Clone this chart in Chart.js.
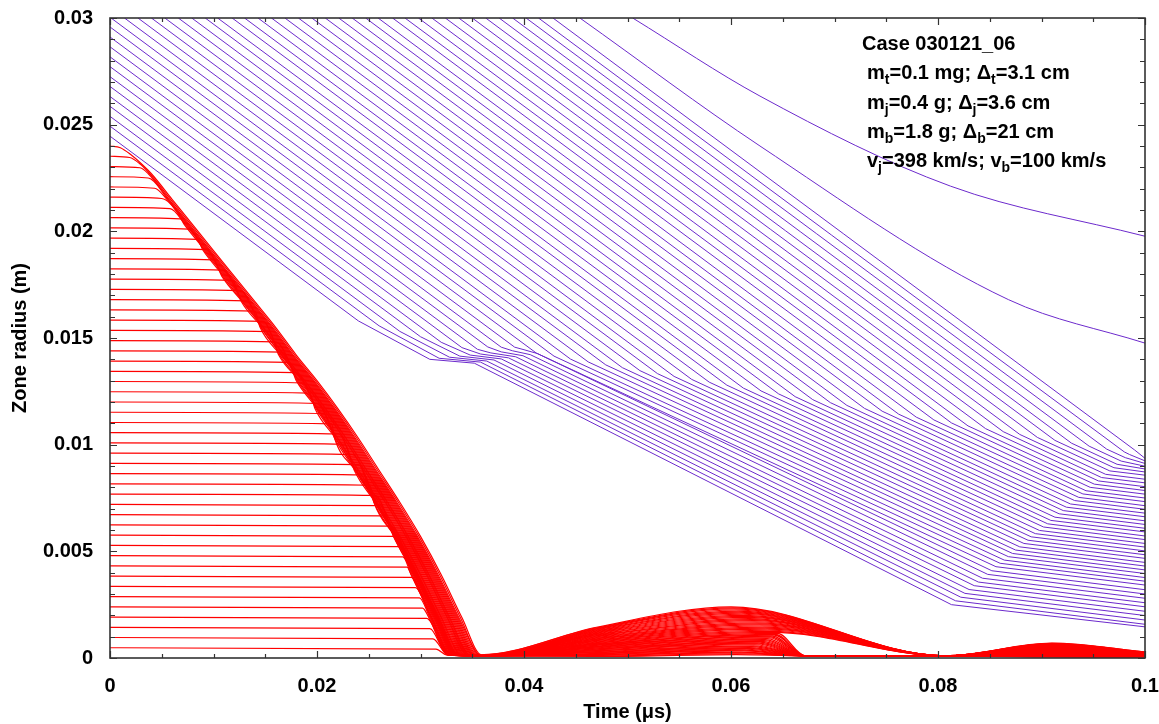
<!DOCTYPE html>
<html>
<head>
<meta charset="utf-8">
<script src="https://cdn.jsdelivr.net/npm/chart.js@4.4.1/dist/chart.umd.min.js"></script>
<style>
  html, body { margin: 0; padding: 0; background: #fff; }
</style>
</head>
<body>
<canvas id="zoneChart" width="1159" height="724"></canvas>
<script>
// tick labels
const xMajor = [0, 0.02, 0.04, 0.06, 0.08, 0.1];
const yMajor = [0, 0.005, 0.01, 0.015, 0.02, 0.025, 0.03];

// target zones (red): initial radius, time the flat line bends, lag behind outermost zone
const redStart = [0.024, 0.02352, 0.02304, 0.02256, 0.02208, 0.0216, 0.02112, 0.02064, 0.02016, 0.01968,
  0.0192, 0.01872, 0.01824, 0.01776, 0.01728, 0.0168, 0.01632, 0.01584, 0.01536, 0.01488,
  0.0144, 0.01392, 0.01344, 0.01296, 0.01248, 0.012, 0.01152, 0.01104, 0.01056, 0.01008,
  0.0096, 0.00912, 0.00864, 0.00816, 0.00768, 0.0072, 0.00672, 0.00624, 0.00576, 0.00528,
  0.0048, 0.00432, 0.00384, 0.00336, 0.00288, 0.0024, 0.00192, 0.00144, 0.00096, 0.00048];
const redBend = [0, 0.0019, 0.0029, 0.0037, 0.0043, 0.0050, 0.0058, 0.0068, 0.0076, 0.0084,
  0.0093, 0.0100, 0.0109, 0.0118, 0.0126, 0.0132, 0.0140, 0.0148, 0.0154, 0.0160,
  0.0166, 0.0172, 0.0179, 0.0186, 0.0193, 0.0200, 0.0207, 0.0214, 0.0221, 0.0227,
  0.0234, 0.0240, 0.0246, 0.0251, 0.0256, 0.0261, 0.0266, 0.0271, 0.0275, 0.0279,
  0.0283, 0.0287, 0.0291, 0.0295, 0.0299, 0.0302, 0.0306, 0.0309, 0.0312, 0.0315];
const redLag = [0, 0.00015, 0.0003, 0.0004, 0.0005, 0.0006, 0.0007, 0.0008, 0.0009, 0.0010,
  0.0011, 0.0012, 0.0012, 0.0013, 0.0014, 0.0014, 0.0015, 0.0016, 0.0017, 0.0018,
  0.0019, 0.0020, 0.0020, 0.0021, 0.0022, 0.0022, 0.0023, 0.0023, 0.0023, 0.0024,
  0.0024, 0.0024, 0.0025, 0.0025, 0.0025, 0.0026, 0.0026, 0.0027, 0.0027, 0.0028,
  0.0029, 0.0029, 0.0030, 0.0030, 0.0031, 0.0032, 0.0032, 0.0033, 0.0033, 0.0034];
// outermost target zone trajectory
const outerT = [0, 0.001, 0.002, 0.003, 0.004, 0.006, 0.008, 0.010, 0.012, 0.014, 0.016, 0.018,
  0.020, 0.022, 0.024, 0.026, 0.028, 0.030, 0.032, 0.034, 0.0359];
const outerR = [0.0240, 0.02392, 0.0236, 0.02318, 0.0227, 0.0215, 0.0203, 0.0191, 0.0179, 0.0167, 0.0155, 0.0142,
  0.0130, 0.0117, 0.0103, 0.0088, 0.0073, 0.0057, 0.0039, 0.0019, 0.00015];
// bounces after reaching the axis
const redRise = [0.00144, 0.00141, 0.00138, 0.00135, 0.00132, 0.00129, 0.00126, 0.00123, 0.00120, 0.00117,
  0.00114, 0.00111, 0.00108, 0.00105, 0.00102, 0.00099, 0.00096, 0.00093, 0.00090, 0.00087,
  0.00084, 0.00081, 0.00078, 0.00075, 0.00072, 0.00069, 0.00066, 0.00064, 0.00061, 0.00059,
  0.00056, 0.00053, 0.00051, 0.00048, 0.00046, 0.00043, 0.00041, 0.00038, 0.00035, 0.00033,
  0.00030, 0.00028, 0.00025, 0.00022, 0.00020, 0.00017, 0.00015, 0.00012, 0.00010, 0.00007];
const redPeak1 = [0.00240, 0.00235, 0.00230, 0.00225, 0.00220, 0.00215, 0.00210, 0.00205, 0.00200, 0.00195,
  0.00190, 0.00185, 0.00180, 0.00175, 0.00170, 0.00165, 0.00160, 0.00155, 0.00150, 0.00145,
  0.00140, 0.00135, 0.00130, 0.00125, 0.00120, 0.00115, 0.00111, 0.00107, 0.00103, 0.00099,
  0.00095, 0.00091, 0.00086, 0.00082, 0.00078, 0.00074, 0.00070, 0.00066, 0.00062, 0.00057,
  0.00053, 0.00049, 0.00045, 0.00041, 0.00037, 0.00033, 0.00028, 0.00024, 0.00020, 0.00016];
const redPeak1T = [0.0600, 0.0602, 0.0603, 0.0605, 0.0607, 0.0608, 0.0610, 0.0612, 0.0613, 0.0615,
  0.0617, 0.0618, 0.0620, 0.0622, 0.0623, 0.0625, 0.0627, 0.0628, 0.0630, 0.0632,
  0.0633, 0.0635, 0.0637, 0.0638, 0.0640, 0.0645, 0.0643, 0.0642, 0.0640, 0.0638,
  0.0637, 0.0635, 0.0633, 0.0632, 0.0630, 0.0628, 0.0627, 0.0625, 0.0623, 0.0622,
  0.0620, 0.0618, 0.0617, 0.0615, 0.0613, 0.0612, 0.0610, 0.0608, 0.0607, 0.0605];
const redEnd1 = [0.0807, 0.0807, 0.0807, 0.0807, 0.0807, 0.0807, 0.0807, 0.0807, 0.0807, 0.0807,
  0.0807, 0.0807, 0.0807, 0.0807, 0.0807, 0.0807, 0.0807, 0.0807, 0.0807, 0.0807,
  0.0807, 0.0807, 0.0807, 0.0807, 0.0807, 0.0672, 0.0672, 0.0672, 0.0672, 0.0672,
  0.0672, 0.0672, 0.0672, 0.0672, 0.0672, 0.0672, 0.0672, 0.0672, 0.0672, 0.0672,
  0.0672, 0.0672, 0.0672, 0.0672, 0.0672, 0.0672, 0.0672, 0.0672, 0.0672, 0.0672];
const redPeak2 = [0.00070, 0.00069, 0.00067, 0.00066, 0.00065, 0.00063, 0.00062, 0.00061, 0.00059, 0.00058,
  0.00057, 0.00055, 0.00054, 0.00052, 0.00051, 0.00050, 0.00048, 0.00047, 0.00046, 0.00044,
  0.00043, 0.00042, 0.00040, 0.00039, 0.00038, 0.00036, 0.00035, 0.00034, 0.00032, 0.00031,
  0.00030, 0.00028, 0.00027, 0.00026, 0.00024, 0.00023, 0.00022, 0.00020, 0.00019, 0.00018,
  0.00016, 0.00015, 0.00014, 0.00012, 0.00011, 0.00010, 0.00008, 0.00007, 0.00006, 0.00004];
const redTail = [0.00028, 0.00028, 0.00027, 0.00026, 0.00026, 0.00025, 0.00025, 0.00024, 0.00024, 0.00023,
  0.00023, 0.00022, 0.00022, 0.00021, 0.00020, 0.00020, 0.00019, 0.00019, 0.00018, 0.00018,
  0.00017, 0.00017, 0.00016, 0.00016, 0.00015, 0.00014, 0.00014, 0.00014, 0.00013, 0.00012,
  0.00012, 0.00011, 0.00011, 0.00010, 0.00010, 0.00009, 0.00009, 0.00008, 0.00008, 0.00007,
  0.00006, 0.00006, 0.00006, 0.00005, 0.00004, 0.00004, 0.00003, 0.00003, 0.00002, 0.00002];
const bendSag = 0.00006;
const apex1T = 0.0359, riseT = 0.047, apex2T = 0.0807, peak2T = 0.0910, floorR = 0.0001;

// jet zones (purple): start, bend into slowed layer, stagnation knee, radius at 0.1
const purpleStartT = [0, 0, 0, 0, 0, 0, 0, 0, 0, 0, 0, 0,
  0.0001, 0.0014, 0.0027, 0.0040, 0.0053, 0.0066, 0.0079, 0.0092, 0.0104, 0.0118, 0.0130, 0.0143,
  0.0156, 0.0169, 0.0182, 0.0195, 0.0208, 0.0221, 0.0234, 0.0247, 0.0259, 0.0273, 0.0285, 0.0298,
  0.0311, 0.0324, 0.0337, 0.0350, 0.0363, 0.0376, 0.0389, 0.0402, 0.0414, 0.0428, 0.0454, 0.0505];
const purpleStartR = [0.02446, 0.02493, 0.02539, 0.02586, 0.02632, 0.02679, 0.02725, 0.02772, 0.02818, 0.02865, 0.02911, 0.02958,
  0.03, 0.03, 0.03, 0.03, 0.03, 0.03, 0.03, 0.03, 0.03, 0.03, 0.03, 0.03,
  0.03, 0.03, 0.03, 0.03, 0.03, 0.03, 0.03, 0.03, 0.03, 0.03, 0.03, 0.03,
  0.03, 0.03, 0.03, 0.03, 0.03, 0.03, 0.03, 0.03, 0.03, 0.03, 0.03, 0.03];
const purpleInT = [0.0240, 0.0260, 0.0280, 0.0300, 0.0320, 0.0340, 0.0355, 0.0365, 0.0378, 0.0391,
  0.0412, 0.0429, 0.0445, 0.0462, 0.0479, 0.0495, 0.0512, 0.0529, 0.0545, 0.0562,
  0.0579, 0.0596, 0.0612, 0.0629, 0.0646, 0.0662, 0.0679, 0.0696, 0.0712, 0.0729,
  0.0746, 0.0762, 0.0779, 0.0796, 0.0813, 0.0829, 0.0846, 0.0863, 0.0879, 0.0896,
  0.0913, 0.0929, 0.0946, 0.0963, 0.0980, null, 0.0628, 0.0628];
const purpleInR = [0.0158, 0.01557, 0.01531, 0.01506, 0.01480, 0.01455, 0.01447, 0.01458, 0.01457, 0.01457,
  0.01429, 0.01415, 0.01401, 0.01388, 0.01374, 0.01361, 0.01347, 0.01333, 0.01320, 0.01306,
  0.01293, 0.01279, 0.01265, 0.01252, 0.01238, 0.01225, 0.01211, 0.01197, 0.01184, 0.01170,
  0.01157, 0.01143, 0.01129, 0.01116, 0.01102, 0.01088, 0.01075, 0.01061, 0.01048, 0.01034,
  0.01020, 0.01007, 0.00993, 0.00979, 0.00966, null, 0.0240, 0.02634];
// innermost jet zones pile up near r = 0.014 (pinch), then leave it
const purpleFlatT = [0.0309, 0.0318, 0.0328, 0.0338, 0.0348, 0.0358, 0.0368, 0.0378, 0.0389, 0.0400];
const purpleFlatR = [0.0140, 0.01405, 0.01410, 0.01415, 0.01420, 0.01425, 0.01430, 0.01435, 0.0144, 0.01445];
const purpleOutT = [0.0352, 0.0358, 0.0364, 0.0371, 0.0378, 0.0385, 0.0392, 0.0399, 0.0406, 0.0413];
const purpleOutR = [0.01382, 0.01387, 0.01392, 0.01397, 0.01402, 0.01407, 0.01412, 0.01417, 0.01422, 0.01427];
const purpleKneeT = [0.0813, 0.0817, 0.0822, 0.0826, 0.0830, 0.0835, 0.0839, 0.0843, 0.0848, 0.0852,
  0.0856, 0.0860, 0.0864, 0.0868, 0.0872, 0.0875, 0.0879, 0.0883, 0.0887, 0.0890,
  0.0894, 0.0898, 0.0902, 0.0906, 0.0909, 0.0913, 0.0917, 0.0921, 0.0924, 0.0928,
  0.0932, 0.0936, 0.0940, 0.0943, 0.0947, 0.0951, 0.0955, 0.0958, 0.0962, 0.0966,
  0.0970, 0.0973, 0.0977, 0.0981, 0.0985, 0.0990, 0.0868, 0.0812];
const purpleKneeR = [0.0025, 0.00268, 0.00285, 0.00303, 0.00321, 0.00339, 0.00356, 0.00374, 0.00392, 0.00409,
  0.00428, 0.00444, 0.00459, 0.00475, 0.00490, 0.00506, 0.00521, 0.00537, 0.00552, 0.00568,
  0.00583, 0.00598, 0.00614, 0.00629, 0.00645, 0.00660, 0.00676, 0.00691, 0.00707, 0.00722,
  0.00738, 0.00753, 0.00769, 0.00784, 0.00800, 0.00815, 0.00830, 0.00846, 0.00861, 0.00877,
  0.00892, 0.00908, 0.00923, 0.00939, 0.00954, 0.00975, 0.0168, 0.02212];
const purpleEndR = [0.00146, 0.00158, 0.00178, 0.00199, 0.00219, 0.00240, 0.00259, 0.00280, 0.00300, 0.00320,
  0.00342, 0.00360, 0.00377, 0.00396, 0.00413, 0.00431, 0.00448, 0.00467, 0.00484, 0.00502,
  0.00520, 0.00537, 0.00555, 0.00572, 0.00591, 0.00608, 0.00626, 0.00643, 0.00662, 0.00679,
  0.00697, 0.00714, 0.00733, 0.00750, 0.00768, 0.00785, 0.00803, 0.00821, 0.00838, 0.00857,
  0.00872, 0.00886, 0.00899, 0.00912, 0.00924, 0.00936, 0.01476, 0.01977];

const caseText = [
  [['Case 030121_06', 0]],
  [['m', 0], ['t', 1], ['=0.1 mg; \u0394', 0], ['t', 1], ['=3.1 cm', 0]],
  [['m', 0], ['j', 1], ['=0.4 g; \u0394', 0], ['j', 1], ['=3.6 cm', 0]],
  [['m', 0], ['b', 1], ['=1.8 g; \u0394', 0], ['b', 1], ['=21 cm', 0]],
  [['v', 0], ['j', 1], ['=398 km/s; v', 0], ['b', 1], ['=100 km/s', 0]]
];

const fontFam = '"Liberation Sans", Arial, Helvetica, sans-serif';
const RED = '#ff0000';
const PURPLE = 'rgb(108, 42, 204)';

function redPoints(k) {
  const r0 = redStart[k];
  const lag = redLag[k];
  const pts = [{ x: 0, y: r0 }];
  if (redBend[k] > 0) pts.push({ x: redBend[k], y: r0 - bendSag });
  outerT.forEach((t, i) => {
    const last = pts[pts.length - 1];
    const tt = t - lag;
    if (tt > last.x + 0.0002 && outerR[i] < last.y - 0.00005) pts.push({ x: tt, y: outerR[i] });
  });
  if (pts[pts.length - 1].x < apex1T - 0.0002) pts.push({ x: apex1T, y: floorR });
  pts.push({ x: riseT, y: redRise[k] });
  pts.push({ x: redPeak1T[k], y: redPeak1[k] });
  pts.push({ x: redEnd1[k], y: floorR });
  if (redEnd1[k] < apex2T - 0.0005) pts.push({ x: apex2T, y: floorR });
  pts.push({ x: peak2T, y: redPeak2[k] });
  pts.push({ x: 0.1, y: redTail[k] });
  return pts;
}

function jetPoints(j) {
  const pts = [{ x: purpleStartT[j], y: purpleStartR[j] }];
  if (purpleInT[j] !== null) pts.push({ x: purpleInT[j], y: purpleInR[j] });
  if (j < purpleFlatT.length) {
    pts.push({ x: purpleFlatT[j], y: purpleFlatR[j] });
    pts.push({ x: purpleOutT[j], y: purpleOutR[j] });
  }
  pts.push({ x: purpleKneeT[j], y: purpleKneeR[j] });
  pts.push({ x: 0.1, y: purpleEndR[j] });
  return pts;
}

const datasets = [];
purpleStartT.forEach((_, j) => {
  datasets.push({
    data: jetPoints(j),
    borderColor: PURPLE,
    borderWidth: 1,
    pointRadius: 0,
    tension: 0,
    cubicInterpolationMode: j >= 46 ? 'monotone' : 'default'
  });
});
redStart.forEach((_, k) => {
  datasets.push({
    data: redPoints(k),
    borderColor: RED,
    borderWidth: 1.2,
    pointRadius: 0,
    cubicInterpolationMode: 'monotone'
  });
});

const frameTicks = {
  id: 'frameTicks',
  afterDatasetsDraw(chart) {
    const { ctx, chartArea: a, scales: { x, y } } = chart;
    ctx.save();
    ctx.strokeStyle = '#333';
    ctx.lineWidth = 1.2;
    ctx.beginPath();
    for (let i = 0; i <= 20; i++) {
      const px = Math.round(x.getPixelForValue(i * 0.005)) + 0.5;
      const len = i % 4 === 0 ? 7 : 4;
      ctx.moveTo(px, a.bottom); ctx.lineTo(px, a.bottom - len);
      ctx.moveTo(px, a.top); ctx.lineTo(px, a.top + len);
    }
    for (let i = 0; i <= 30; i++) {
      const py = Math.round(y.getPixelForValue(i * 0.001)) + 0.5;
      const len = i % 5 === 0 ? 7 : 5;
      ctx.moveTo(a.left, py); ctx.lineTo(a.left + len, py);
      ctx.moveTo(a.right, py); ctx.lineTo(a.right - len, py);
    }
    ctx.stroke();
    ctx.lineWidth = 1.6;
    ctx.strokeRect(a.left, a.top, a.right - a.left, a.bottom - a.top);

    // case annotation
    ctx.fillStyle = '#000';
    ctx.textBaseline = 'alphabetic';
    const baselines = [50, 79, 108.5, 138, 167];
    caseText.forEach((parts, row) => {
      let cx = row === 0 ? 862 : 867;
      parts.forEach(([txt, sub]) => {
        ctx.font = sub ? 'bold 14px ' + fontFam : 'bold 20px ' + fontFam;
        ctx.fillText(txt, cx, baselines[row] + (sub ? 5 : 0));
        cx += ctx.measureText(txt).width;
      });
    });
    ctx.restore();
  }
};

const tickFont = { family: fontFam, size: 20, weight: 'bold' };

new Chart(document.getElementById('zoneChart'), {
  type: 'line',
  data: { datasets },
  options: {
    responsive: false,
    animation: false,
    devicePixelRatio: 1,
    parsing: false,
    layout: { padding: { top: 18, right: 14, bottom: 0, left: 0 } },
    plugins: { legend: { display: false }, tooltip: { enabled: false } },
    scales: {
      x: {
        type: 'linear', min: 0, max: 0.1,
        afterBuildTicks: s => { s.ticks = xMajor.map(v => ({ value: v })); },
        afterFit: s => { s.height = 66; s.paddingLeft = 0; s.paddingRight = 0; },
        grid: { display: false, drawTicks: false },
        border: { display: false },
        ticks: { font: tickFont, color: '#000', padding: 16, maxRotation: 0, autoSkip: false, callback: v => String(v) },
        title: { display: true, text: 'Time (\u03bcs)', color: '#000', font: tickFont, padding: { top: 0, bottom: 0 } }
      },
      y: {
        type: 'linear', min: 0, max: 0.03,
        afterBuildTicks: s => { s.ticks = yMajor.map(v => ({ value: v })); },
        afterFit: s => { s.width = 110; s.paddingTop = 0; s.paddingBottom = 0; },
        grid: { display: false, drawTicks: false },
        border: { display: false },
        ticks: { font: tickFont, color: '#000', padding: 17, autoSkip: false, callback: v => String(v) },
        title: { display: true, text: 'Zone radius (m)', color: '#000', font: tickFont, padding: { top: 8, bottom: 0 } }
      }
    }
  },
  plugins: [frameTicks]
});
</script>
</body>
</html>
